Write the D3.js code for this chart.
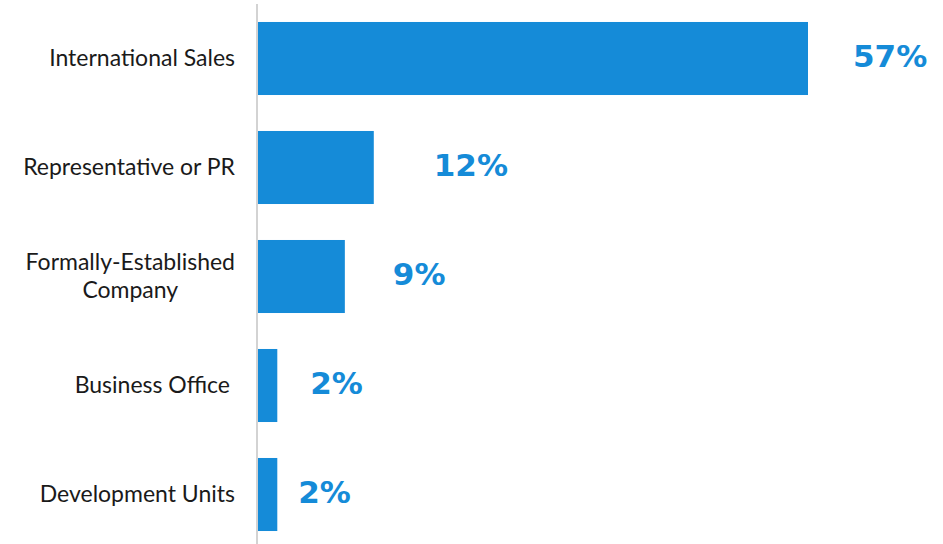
<!DOCTYPE html>
<html><head><meta charset="utf-8">
<script src="https://cdn.jsdelivr.net/npm/d3@7"></script>
<style>
html,body{margin:0;padding:0;background:#fff;}
svg{display:block;}
</style></head>
<body>
<svg id="chart" width="943" height="544"></svg>
<script>
// ---- data ----
const categories = ["International Sales", "Representative or PR", "Formally-Established\nCompany", "Business Office", "Development Units"];
const values = [57, 12, 9, 2, 2];
const valueLabels = ["57%", "12%", "9%", "2%", "2%"];

// ---- layout (not data) ----
const labelGap = [45, 60, 48, 33, 21];
const labelRightPad = [0, 0, 0, 5, 0];

const svg = d3.select("#chart");
const blue = "#158bd8";

const x = d3.scaleLinear().domain([0, 57]).range([258, 808]);
const y = d3.scaleBand().domain(categories).range([4, 549]).paddingInner(0.33).paddingOuter(0.165);

// bars
svg.selectAll("rect.bar").data(categories).join("rect")
  .attr("class", "bar")
  .attr("x", x(0))
  .attr("y", d => y(d))
  .attr("width", (d, i) => x(values[i]) - x(0))
  .attr("height", y.bandwidth())
  .attr("fill", blue);

// axis line
svg.append("line")
  .attr("x1", 257).attr("x2", 257)
  .attr("y1", 4).attr("y2", 544)
  .attr("stroke", "#c4c4c4").attr("stroke-width", 1.5);

// category labels
const catG = svg.append("g")
  .attr("font-family", "Lato, sans-serif")
  .attr("font-size", 23)
  .attr("fill", "#1a1a1a");

categories.forEach((c, i) => {
  const lines = c.split("\n");
  const cy = y(c) + y.bandwidth() / 2;
  const rightX = 235 - labelRightPad[i];
  if (lines.length === 1) {
    catG.append("text")
      .attr("x", rightX).attr("y", cy + 7.7)
      .attr("text-anchor", "end")
      .text(c);
  } else {
    const lh = 28;
    const t = catG.append("text").attr("text-anchor", "middle");
    const tmp = catG.append("text").text(lines.reduce((a, b) => a.length > b.length ? a : b));
    const w = tmp.node().getComputedTextLength();
    tmp.remove();
    const cx = rightX - w / 2;
    const first = cy + 7.7 - (lines.length - 1) * lh / 2;
    lines.forEach((ln, j) => {
      t.append("tspan").attr("x", cx).attr("y", first + j * lh).text(ln);
    });
  }
});

// value labels
svg.append("g")
  .attr("font-family", "'DejaVu Sans', sans-serif")
  .attr("font-weight", 700)
  .attr("font-size", 31)
  .attr("fill", blue)
  .selectAll("text").data(categories).join("text")
  .attr("x", (d, i) => x(values[i]) + labelGap[i])
  .attr("y", d => y(d) + y.bandwidth() / 2 + 8.5)
  .text((d, i) => valueLabels[i]);
</script>
</body></html>
